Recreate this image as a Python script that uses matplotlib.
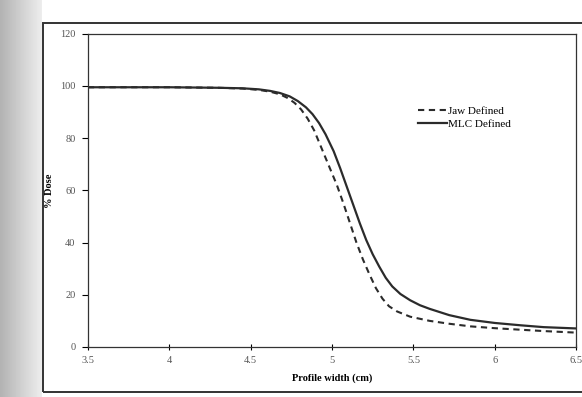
import matplotlib
matplotlib.use("Agg")
import matplotlib.pyplot as plt
import numpy as np
from matplotlib.patches import Rectangle

# profile data
x_jaw = [3.5, 4.0, 4.3, 4.45, 4.55, 4.62, 4.68, 4.73, 4.77, 4.81, 4.85, 4.89,
         4.94, 4.99, 5.03, 5.07, 5.11, 5.15, 5.19, 5.23, 5.27, 5.31, 5.35,
         5.40, 5.48, 5.6, 5.72, 5.85, 6.0, 6.16, 6.3, 6.5]
jaw = [99.5, 99.5, 99.3, 99.0, 98.5, 97.8, 96.8, 95.3, 93.5, 91.0, 87.5, 83.0,
       75.5, 68.0, 62.0, 55.0, 47.5, 40.0, 33.5, 27.8, 22.5, 18.5, 15.6,
       13.6, 11.6, 10.0, 8.9, 7.9, 7.2, 6.6, 6.1, 5.5]

x_mlc = [3.5, 4.0, 4.3, 4.45, 4.55, 4.62, 4.68, 4.74, 4.79, 4.84, 4.88, 4.92,
         4.96, 5.01, 5.05, 5.09, 5.13, 5.17, 5.21, 5.25, 5.29, 5.33, 5.37,
         5.42, 5.48, 5.54, 5.6, 5.72, 5.85, 6.0, 6.16, 6.3, 6.5]
mlc = [99.5, 99.5, 99.3, 99.1, 98.7, 98.1, 97.3, 96.0, 94.2, 91.8, 89.2, 85.8,
       81.5, 75.0, 68.5, 61.5, 54.5, 47.5, 41.0, 35.5, 30.8, 26.5, 23.2,
       20.3, 17.9, 16.0, 14.6, 12.2, 10.4, 9.2, 8.3, 7.6, 7.1]

x_ticks = [3.5, 4, 4.5, 5, 5.5, 6, 6.5]
y_ticks = [0, 20, 40, 60, 80, 100, 120]

plt.rcParams['font.family'] = ['Liberation Serif', 'DejaVu Serif']

fig = plt.figure(figsize=(5.82, 3.97), dpi=100)
fig.patch.set_facecolor('white')

# grey page gutter on the left of the scan
gut = fig.add_axes([0, 0, 0.072, 1])
grad = np.linspace(0.70, 0.93, 50).reshape(1, -1)
gut.imshow(grad, cmap='gray', vmin=0, vmax=1, aspect='auto', extent=[0, 1, 0, 1])
gut.axis('off')

# outer chart border
fig.patches.append(Rectangle((0.074, 0.013), 0.96, 0.929, transform=fig.transFigure,
                             fill=False, edgecolor='#333333', linewidth=1.4))

ax = fig.add_axes([0.151, 0.126, 0.839, 0.789])
ax.plot(x_jaw, jaw, color='#2b2b2b', lw=1.5, ls=(0, (3, 2.2)), label='Jaw Defined')
ax.plot(x_mlc, mlc, color='#2b2b2b', lw=1.6, label='MLC Defined')

ax.set_xlim(3.5, 6.5)
ax.set_ylim(0, 120)
ax.set_xticks(x_ticks)
ax.set_yticks(y_ticks)
ax.set_xticklabels(['%g' % t for t in x_ticks])
ax.set_yticklabels(['%g' % t for t in y_ticks])
ax.tick_params(axis='x', direction='inout', length=5, width=0.8, labelsize=7.5,
               labelcolor='#555555', pad=4)
ax.tick_params(axis='y', direction='out', length=4, width=0.8, labelsize=7.5,
               labelcolor='#555555', pad=5)
for s in ax.spines.values():
    s.set_linewidth(0.9)
    s.set_color('#333333')

ax.set_xlabel('Profile width (cm)', fontsize=7.5, fontweight='bold', labelpad=6)
ax.set_ylabel('% Dose', fontsize=7.5, fontweight='bold', labelpad=4)

ax.legend(loc='upper left', bbox_to_anchor=(0.655, 0.80), frameon=False,
          fontsize=8, handlelength=2.6, handletextpad=0.1, labelspacing=0.25)

fig.savefig('out.png', dpi=100, facecolor='white')
